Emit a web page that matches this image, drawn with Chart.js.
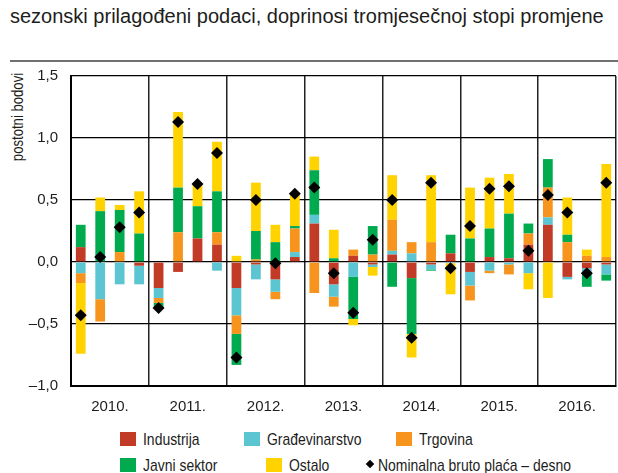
<!DOCTYPE html>
<html lang="hr">
<head>
<meta charset="UTF-8">
<title>Doprinosi tromjesečnoj stopi promjene</title>
<style>
  html, body { margin: 0; padding: 0; background: #fff; overflow: hidden; }
  #wrap { position: relative; width: 618px; height: 473px; overflow: hidden; }
  #title { position: absolute; left: 10px; top: 5px; font: 20px "Liberation Sans", Arial, sans-serif; line-height: 22px; color: #1d1d1b; white-space: nowrap; }
  #rule { position: absolute; left: 10px; top: 60px; width: 608px; height: 2px; background: #707070; }
  #ytitle { position: absolute; left: 18px; top: 117px; transform: translate(-50%, -50%) rotate(-90deg) scaleX(0.82); font: 16px "Liberation Sans", Arial, sans-serif; color: #1d1d1b; white-space: nowrap; }
  #chartBox { position: absolute; left: 0; top: 60px; width: 622px; height: 361px; }
  .lg { position: absolute; font: 17px "Liberation Sans", Arial, sans-serif; color: #1d1d1b; white-space: nowrap; line-height: 18px; transform: scaleX(0.82); transform-origin: left center; }
  .sw { position: absolute; width: 16px; height: 14px; }
  .dm { position: absolute; width: 6px; height: 6px; background: #000; transform: rotate(45deg); }
</style>
</head>
<body>
<div id="wrap">
  <div id="title">sezonski prilagođeni podaci, doprinosi tromjesečnoj stopi promjene</div>
  <div id="rule"></div>
  <div id="ytitle">postotni bodovi</div>
  <div id="chartBox"><canvas id="chart" width="622" height="361"></canvas></div>

  <!-- legenda -->
  <div class="sw" style="left:120px;top:432px;background:#C23B26"></div>
  <div class="lg" style="left:143px;top:431px">Industrija</div>
  <div class="sw" style="left:244px;top:432px;background:#5BC5D1"></div>
  <div class="lg" style="left:267px;top:431px">Građevinarstvo</div>
  <div class="sw" style="left:396px;top:432px;background:#F7941E"></div>
  <div class="lg" style="left:419px;top:431px">Trgovina</div>
  <div class="sw" style="left:120px;top:458px;background:#00AB4F"></div>
  <div class="lg" style="left:143px;top:457px">Javni sektor</div>
  <div class="sw" style="left:266px;top:458px;background:#FFD300"></div>
  <div class="lg" style="left:289px;top:457px">Ostalo</div>
  <div class="dm" style="left:367px;top:461px"></div>
  <div class="lg" style="left:378px;top:457px">Nominalna bruto plaća – desno</div>
</div>

<script src="https://cdn.jsdelivr.net/npm/chart.js@4.4.7/dist/chart.umd.min.js"></script>
<script>
// kvartali 2010.–2016.
const years = ['2010.', '2011.', '2012.', '2013.', '2014.', '2015.', '2016.'];
const quarters = [];
years.forEach(y => { for (let q = 1; q <= 4; q++) quarters.push(y + ' Q' + q); });

// doprinosi (postotni bodovi)
const industrija = [
  0.12, 0, 0, -0.03,
  -0.21, -0.08, 0.19, 0.14,
  -0.21, -0.02, -0.14, 0.04,
  0.31, -0.18, 0.05, -0.02,
  0.06, -0.13, -0.02, 0.07,
  -0.08, 0.04, 0.03, 0.14,
  0.30, -0.12, -0.05, -0.02
];
const gradjevinarstvo = [
  -0.09, -0.30, -0.18, -0.15,
  -0.08, 0, 0, -0.07,
  -0.22, -0.12, -0.10, 0.04,
  0.07, -0.10, -0.12, -0.02,
  0.03, 0.07, -0.04, -0.01,
  -0.11, -0.07, -0.02, -0.09,
  0.06, -0.02, -0.03, -0.08
];
const trgovina = [
  -0.08, -0.18, 0.08, 0,
  -0.04, 0.24, 0, 0.10,
  -0.15, 0.02, -0.06, 0.19,
  -0.25, -0.08, 0.05, 0.06,
  0.25, 0.09, 0.16, 0,
  -0.12, -0.02, -0.08, 0.09,
  0.24, 0.16, 0.05, 0.04
];
const javniSektor = [
  0.18, 0.41, 0.34, 0.23,
  -0.04, 0.36, 0.26, 0.33,
  -0.25, 0.23, 0.16, 0.02,
  0.36, 0.03, -0.34, 0.23,
  -0.20, -0.45, -0.01, 0.15,
  0.19, 0.23, 0.36, 0.08,
  0.23, 0.06, -0.12, -0.05
];
const ostalo = [
  -0.57, 0.11, 0.04, 0.34,
  0, 0.61, 0.18, 0.40,
  0.05, 0.39, 0.14, 0.27,
  0.11, 0.23, -0.05, -0.07,
  0.36, -0.19, 0.54, -0.25,
  0.41, 0.41, 0.32, -0.13,
  -0.29, 0.30, 0.05, 0.75
];
const brutoPlaca = [
  -0.43, 0.04, 0.28, 0.40,
  -0.37, 1.13, 0.63, 0.88,
  -0.77, 0.50, -0.01, 0.55,
  0.60, -0.09, -0.41, 0.18,
  0.50, -0.61, 0.64, -0.05,
  0.29, 0.59, 0.61, 0.09,
  0.54, 0.40, -0.09, 0.64
];
const yTicks = [-1, -0.5, 0, 0.5, 1, 1.5];

const axisFont = { family: '"Liberation Sans", Arial, sans-serif', size: 15 };

function bar(label, data, color) {
  return {
    type: 'bar', label, data, backgroundColor: color,
    borderWidth: 0, barPercentage: 0.5, categoryPercentage: 1,
    stack: 'doprinosi', xAxisID: 'x', order: 1
  };
}

// ukloni automatski razmak za oznake, da je područje grafa fiksno
function noPad(s) { s.paddingTop = 0; s.paddingBottom = 0; s.paddingLeft = 0; s.paddingRight = 0; }

new Chart(document.getElementById('chart'), {
  data: {
    labels: quarters,
    datasets: [
      {
        type: 'line', label: 'Nominalna bruto plaća – desno', data: brutoPlaca,
        showLine: false, pointStyle: 'rectRot', pointRadius: 6, pointHoverRadius: 6,
        pointBackgroundColor: '#000', pointBorderColor: '#000', pointBorderWidth: 0,
        stack: 'placa', xAxisID: 'x', order: 0
      },
      bar('Industrija', industrija, '#C23B26'),
      bar('Građevinarstvo', gradjevinarstvo, '#5BC5D1'),
      bar('Trgovina', trgovina, '#F7941E'),
      bar('Javni sektor', javniSektor, '#00AB4F'),
      bar('Ostalo', ostalo, '#FFD300')
    ]
  },
  options: {
    responsive: false,
    animation: false,
    layout: { padding: { top: 16, left: 0, right: 0, bottom: 0 } },
    plugins: { legend: { display: false }, tooltip: { enabled: false } },
    scales: {
      x: { display: false, stacked: true, offset: true },
      xYear: {
        type: 'category', position: 'bottom', labels: years, offset: true,
        grid: { offset: true, color: '#222', lineWidth: 1.5, drawTicks: false },
        border: { color: '#000', width: 2 },
        ticks: { padding: 12, color: '#1d1d1b', font: axisFont },
        afterFit: s => { s.height = 35; noPad(s); }
      },
      y: {
        stacked: true, min: -1, max: 1.5,
        afterBuildTicks: s => { s.ticks = yTicks.map(v => ({ value: v })); },
        grid: { color: '#000', lineWidth: 1.3, drawTicks: false },
        border: { color: '#000', width: 2 },
        ticks: {
          padding: 13, color: '#1d1d1b', font: axisFont,
          callback: v => (v < 0 ? '–' : '') + Math.abs(v).toFixed(1).replace('.', ',')
        },
        afterFit: s => { s.width = 71; noPad(s); }
      }
    }
  }
});
</script>
</body>
</html>
